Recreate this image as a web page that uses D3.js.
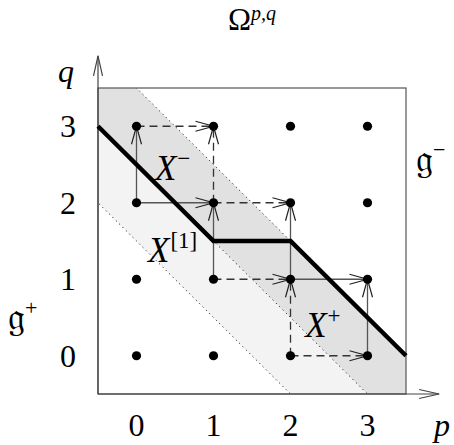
<!DOCTYPE html>
<html><head><meta charset="utf-8">
<script src="https://cdn.jsdelivr.net/npm/d3@7"></script>
<style>body{margin:0;background:#fff}svg{display:block}</style>
</head><body>
<svg id="c" width="454" height="445"></svg>
<script>
// ---- data ----
const gridP = [0, 1, 2, 3];
const gridQ = [0, 1, 2, 3];
const tickLabelsP = ["0", "1", "2", "3"];
const tickLabelsQ = ["0", "1", "2", "3"];
const domainLo = -0.5, domainHi = 3.5;
// diagonal bands p+q in [lo, hi]
const bandLight = [1.5, 2.5];
const bandDark = [2.5, 3.5];
const dottedDiagonals = [1.5, 2.5, 3.5];
// thick boundary line vertices [p, q]
const thickLine = [[-0.5, 3], [1, 1.5], [2, 1.5], [3.5, 0]];
// arrows: [p0, q0, p1, q1, style]
const arrows = [
  [0, 2, 0, 3, "solid"], [0, 2, 1, 2, "solid"], [0, 3, 1, 3, "dashed"], [1, 2, 1, 3, "dashed"],
  [1, 1, 1, 2, "solid"], [1, 1, 2, 1, "dashed"], [1, 2, 2, 2, "dashed"], [2, 1, 2, 2, "solid"],
  [2, 0, 2, 1, "dashed"], [2, 0, 3, 0, "dashed"], [2, 1, 3, 1, "solid"], [3, 0, 3, 1, "solid"]
];
const regionLabels = [
  {p: 0.24, q: 2.3, base: "X", sup: "\u2212"},
  {p: 0.15, q: 1.23, base: "X", sup: "[1]"},
  {p: 2.19, q: 0.245, base: "X", sup: "+"}
];

// ---- drawing ----
const svg = d3.select("#c");
const x = d3.scaleLinear().domain([domainLo, domainHi]).range([98, 406]);
const y = d3.scaleLinear().domain([domainLo, domainHi]).range([394, 88]);
const serif = "'Liberation Serif', 'DejaVu Serif', serif";

svg.append("defs").append("clipPath").attr("id", "box")
  .append("rect").attr("x", x(domainLo)).attr("y", y(domainHi))
  .attr("width", x(domainHi) - x(domainLo)).attr("height", y(domainLo) - y(domainHi));

function bandPoly(lo, hi) {
  const a = -2, b = 6;
  return [[a, lo - a], [b, lo - b], [b, hi - b], [a, hi - a]];
}
const line = d3.line().x(d => x(d[0])).y(d => y(d[1]));
const g = svg.append("g").attr("clip-path", "url(#box)");
g.append("path").attr("d", line(bandPoly(bandLight[0], bandLight[1])) + "Z").attr("fill", "#f3f3f3");
g.append("path").attr("d", line(bandPoly(bandDark[0], bandDark[1])) + "Z").attr("fill", "#e1e1e1");
dottedDiagonals.forEach(c => {
  g.append("path").attr("d", line([[-2, c + 2], [6, c - 6]]))
    .attr("stroke", "#222").attr("stroke-width", 1).attr("stroke-dasharray", "1.2,3.5").attr("fill", "none");
});

// box
svg.append("rect").attr("x", x(domainLo)).attr("y", y(domainHi))
  .attr("width", x(domainHi) - x(domainLo)).attr("height", y(domainLo) - y(domainHi))
  .attr("fill", "none").attr("stroke", "#555").attr("stroke-width", 1.2);

// axes with open arrowheads
function arrowHead(tx, ty, dx, dy, len, hw) {
  const ux = dx, uy = dy, px = -uy, py = ux;
  const bx = tx - ux * len, by = ty - uy * len;
  return `M${bx + px * hw},${by + py * hw}L${tx},${ty}L${bx - px * hw},${by - py * hw}`;
}
const axisColor = "#444";
svg.append("path").attr("d", `M${x(domainLo)},${y(domainLo)}V${y(3.92)}`).attr("stroke", axisColor).attr("stroke-width", 1.2);
svg.append("path").attr("d", arrowHead(x(domainLo), y(3.92), 0, -1, 20, 4.5)).attr("stroke", axisColor).attr("fill", "none").attr("stroke-width", 1.2);
svg.append("path").attr("d", `M${x(domainLo)},${y(domainLo)}H${x(3.93)}`).attr("stroke", axisColor).attr("stroke-width", 1.2);
svg.append("path").attr("d", arrowHead(x(3.93), y(domainLo), 1, 0, 20, 4.5)).attr("stroke", axisColor).attr("fill", "none").attr("stroke-width", 1.2);

// arrows between grid points
arrows.forEach(([p0, q0, p1, q1, st]) => {
  const x0 = x(p0), y0 = y(q0), x1 = x(p1), y1 = y(q1);
  const L = Math.hypot(x1 - x0, y1 - y0), dx = (x1 - x0) / L, dy = (y1 - y0) / L;
  svg.append("path").attr("d", `M${x0},${y0}L${x1},${y1}`)
    .attr("stroke", st === "solid" ? "#555" : "#333").attr("stroke-width", 1.3)
    .attr("stroke-dasharray", st === "solid" ? null : "8,5").attr("fill", "none");
  svg.append("path").attr("d", arrowHead(x1, y1, dx, dy, 18, 5))
    .attr("stroke", "#222").attr("stroke-width", 1.2).attr("fill", "none");
});

// thick line
svg.append("path").attr("d", line(thickLine)).attr("stroke", "#000").attr("stroke-width", 4.5).attr("fill", "none");

// grid dots
gridP.forEach(p => gridQ.forEach(q => {
  svg.append("circle").attr("cx", x(p)).attr("cy", y(q)).attr("r", 4.6).attr("fill", "#000");
}));

// tick labels
const fs = 32;
gridP.forEach((p, i) => svg.append("text").attr("x", x(p)).attr("y", 436).attr("text-anchor", "middle")
  .attr("font-family", serif).attr("font-size", fs).text(tickLabelsP[i]));
gridQ.forEach((q, i) => svg.append("text").attr("x", 68).attr("y", y(q) + 11).attr("text-anchor", "middle")
  .attr("font-family", serif).attr("font-size", fs).text(tickLabelsQ[i]));

// axis names
svg.append("text").attr("x", 66).attr("y", 82).attr("text-anchor", "middle").attr("font-family", serif)
  .attr("font-style", "italic").attr("font-size", fs).text("q");
svg.append("text").attr("x", 434).attr("y", 436).attr("font-family", serif)
  .attr("font-style", "italic").attr("font-size", fs).text("p");

// title
const t = svg.append("text").attr("x", 252).attr("y", 30).attr("text-anchor", "middle").attr("font-family", serif).attr("font-size", 31);
t.append("tspan").text("\u03A9");
t.append("tspan").attr("font-style", "italic").attr("font-size", 20).attr("dy", -10).text("p,q");

// region labels
regionLabels.forEach(d => {
  const tt = svg.append("text").attr("x", x(d.p)).attr("y", y(d.q)).attr("font-family", serif).attr("font-size", 35);
  tt.append("tspan").attr("font-style", "italic").text(d.base);
  tt.append("tspan").attr("font-size", 23).attr("dy", -14).attr("dx", 1).text(d.sup);
});

// g+ and g-
const frak = "'DejaVu Sans', 'DejaVu Serif', 'Noto Sans', serif";
const gp = svg.append("text").attr("x", 8).attr("y", 330).attr("font-family", frak).attr("font-size", 38);
gp.append("tspan").text("\uD835\uDD24");
gp.append("tspan").attr("font-family", serif).attr("font-size", 22).attr("dy", -15).text("+");
const gm = svg.append("text").attr("x", 416).attr("y", 172).attr("font-family", frak).attr("font-size", 38);
gm.append("tspan").text("\uD835\uDD24");
gm.append("tspan").attr("font-family", serif).attr("font-size", 22).attr("dy", -15).text("\u2212");
</script>
</body></html>
